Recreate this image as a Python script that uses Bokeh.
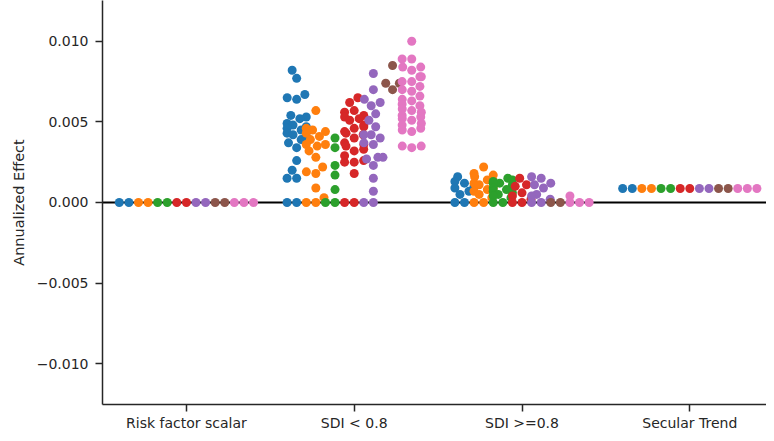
import numpy as np
from bokeh.plotting import figure
from bokeh.models import ColumnDataSource, FixedTicker, Span, CustomJSTickFormatter
from bokeh.embed import file_html
from bokeh.resources import INLINE

# ---------------- data ----------------
categories = ["Risk factor scalar", "SDI < 0.8", "SDI >=0.8", "Secular Trend"]
hue_colors = ["#1f77b4", "#ff7f0e", "#2ca02c", "#d62728", "#9467bd", "#8c564b", "#e377c2"]

# one list per hue (blue, orange, green, red, purple, brown, pink)
risk_factor_scalar = [
    [0.0, 0.0],
    [0.0, 0.0],
    [0.0, 0.0],
    [0.0, 0.0],
    [0.0, 0.0],
    [0.0, 0.0],
    [0.0, 0.0, 0.0],
]

sdi_below_08 = [
    [0.0082, 0.0077, 0.0067, 0.0065, 0.0064, 0.0054, 0.0053, 0.0052, 0.0049, 0.0048,
     0.0047, 0.0046, 0.0045, 0.0044, 0.0043, 0.0042, 0.0041, 0.0039, 0.0037, 0.0034,
     0.0026, 0.0020, 0.0015, 0.0015, 0.0, 0.0],
    [0.0057, 0.0046, 0.0045, 0.0044, 0.0043, 0.0041, 0.0039, 0.0036, 0.0036, 0.0035,
     0.0032, 0.0028, 0.0022, 0.0019, 0.0018, 0.0009, 0.0003, 0.0, 0.0],
    [0.0040, 0.0034, 0.0023, 0.0017, 0.0008, 0.0, 0.0],
    [0.0065, 0.0062, 0.0057, 0.0056, 0.0054, 0.0053, 0.0052, 0.0051, 0.0048, 0.0047,
     0.0046, 0.0044, 0.0043, 0.0042, 0.0040, 0.0037, 0.0036, 0.0035, 0.0033, 0.0032,
     0.0029, 0.0026, 0.0025, 0.0025, 0.0018, 0.0, 0.0],
    [0.0080, 0.0070, 0.0064, 0.0062, 0.0060, 0.0055, 0.0051, 0.0047, 0.0042, 0.0042,
     0.0040, 0.0037, 0.0036, 0.0028, 0.0028, 0.0027, 0.0023, 0.0015, 0.0007, 0.0, 0.0],
    [0.0085, 0.0074, 0.0074, 0.0070],
    [0.0100, 0.0089, 0.0089, 0.0084, 0.0084, 0.0082, 0.0078, 0.0078, 0.0075, 0.0075,
     0.0072, 0.0070, 0.0069, 0.0066, 0.0064, 0.0063, 0.0061, 0.0060, 0.0058, 0.0057,
     0.0056, 0.0054, 0.0053, 0.0052, 0.0051, 0.0049, 0.0048, 0.0046, 0.0045, 0.0044,
     0.0035, 0.0034, 0.0035],
]

sdi_above_08 = [
    [0.0016, 0.0013, 0.0012, 0.0010, 0.0009, 0.0007, 0.0005, 0.0, 0.0],
    [0.0022, 0.0018, 0.0017, 0.0016, 0.0014, 0.0013, 0.0012, 0.0011, 0.0009, 0.0008,
     0.0007, 0.0005, 0.0003, 0.0, 0.0],
    [0.0015, 0.0014, 0.0013, 0.0012, 0.0012, 0.0011, 0.0010, 0.0009, 0.0008, 0.0007,
     0.0006, 0.0005, 0.0004, 0.0003, 0.0, 0.0],
    [0.0015, 0.0011, 0.0010, 0.0006, 0.0004, 0.0002, 0.0, 0.0],
    [0.0016, 0.0015, 0.0012, 0.0011, 0.0009, 0.0005, 0.0004, 0.0002, 0.0, 0.0],
    [0.0, 0.0],
    [0.0004, 0.0, 0.0, 0.0],
]

secular_trend = [
    [0.00087, 0.00087],
    [0.00087, 0.00087],
    [0.00087, 0.00087],
    [0.00087, 0.00087],
    [0.00087, 0.00087],
    [0.00087, 0.00087],
    [0.00087, 0.00087, 0.00087],
]

all_groups = [risk_factor_scalar, sdi_below_08, sdi_above_08, secular_trend]

y_ticks = [-0.010, -0.005, 0.0, 0.005, 0.010]

# ---------------- layout ----------------
W, H = 766, 433
BL, BR, BT, BB = 102, 0, 0, 27
frame_w = W - BL - BR
frame_h = H - BT - BB
x_start = -0.5
x_end = x_start + frame_w / 167.8
y_end = 0.01253
y_start = y_end - frame_h / 16200.0
px_per_x = frame_w / (x_end - x_start)
px_per_y = frame_h / (y_end - y_start)

n_hue = len(hue_colors)
hue_width = 0.8 / n_hue
half_w = hue_width / 2
radius_px = 4.585
marker_size = 9


def beeswarm(values):
    """seaborn-style swarm layout in pixel space; returns x offsets in px."""
    ys = np.asarray(values, float) * px_per_y
    order = np.argsort(ys, kind="stable")
    pts = [np.array([0.0, ys[i], radius_px]) for i in order]
    swarm = [pts[0]]
    for p in pts[1:]:
        neigh = []
        for q in reversed(swarm):
            if p[1] - q[1] < p[2] + q[2]:
                neigh.append(q)
            else:
                break
        neigh = neigh[::-1]
        cands = [p.copy()]
        left_first = True
        for q in neigh:
            dy = p[1] - q[1]
            dx = np.sqrt(max((p[2] + q[2]) ** 2 - dy ** 2, 0)) * 1.05
            cl = np.array([q[0] - dx, p[1], p[2]])
            cr = np.array([q[0] + dx, p[1], p[2]])
            cands.extend([cl, cr] if left_first else [cr, cl])
            left_first = not left_first
        cands = np.array(cands)
        cands = cands[np.argsort(np.abs(cands[:, 0]), kind="stable")]
        chosen = cands[0]
        if neigh:
            nb = np.array(neigh)
            for c in cands:
                d2 = (nb[:, 0] - c[0]) ** 2 + (nb[:, 1] - c[1]) ** 2
                if np.all(d2 >= (nb[:, 2] + c[2]) ** 2 - 1e-9):
                    chosen = c
                    break
        swarm.append(chosen)
    out = np.empty(len(ys))
    out[order] = [s[0] for s in swarm]
    return out


xs, ys, cs = [], [], []
for ci, group in enumerate(all_groups):
    for hi, vals in enumerate(group):
        center = ci + (hi - (n_hue - 1) / 2) * hue_width
        offs = beeswarm(vals) / px_per_x
        offs = np.clip(offs, -half_w, half_w)
        xs.extend(center + offs)
        ys.extend(vals)
        cs.extend([hue_colors[hi]] * len(vals))

source = ColumnDataSource(dict(x=xs, y=ys, color=cs))

# ---------------- figure ----------------
p = figure(width=W, height=H, output_backend="svg", toolbar_location=None,
           x_range=(x_start, x_end), y_range=(y_start, y_end),
           min_border_left=BL, min_border_right=BR, min_border_top=BT, min_border_bottom=BB)
p.outline_line_color = None
p.grid.visible = False
p.background_fill_color = "white"
p.border_fill_color = "white"

zero_line = Span(location=0, dimension="width", line_color="black", line_width=2, level="underlay")
p.add_layout(zero_line)

p.scatter("x", "y", source=source, size=marker_size, fill_color="color", line_color=None)

text_color = "#262626"
font = "DejaVu Sans"

xa = p.xaxis[0]
xa.ticker = FixedTicker(ticks=list(range(len(categories))))
xa.major_label_overrides = {i: c for i, c in enumerate(categories)}
ya = p.yaxis[0]
ya.ticker = FixedTicker(ticks=y_ticks)
ya.formatter = CustomJSTickFormatter(code="""
    const v = Math.abs(tick) < 1e-12 ? 0 : tick;
    return (v < 0 ? "\\u2212" : "") + Math.abs(v).toFixed(3);
""")
ya.axis_label = "Annualized Effect"

for ax in (xa, ya):
    ax.axis_line_color = text_color
    ax.axis_line_width = 1.5
    ax.major_tick_line_color = text_color
    ax.major_tick_line_width = 1.5
    ax.major_tick_in = 0
    ax.major_tick_out = 7
    ax.minor_tick_line_color = None
    ax.major_label_text_font = font
    ax.major_label_text_font_size = "14px"
    ax.major_label_text_color = text_color
    ax.axis_label_text_font = font
    ax.axis_label_text_font_size = "14.5px"
    ax.axis_label_text_font_style = "normal"
    ax.axis_label_text_color = text_color

xa.major_label_standoff = 3
ya.major_label_standoff = 7
ya.axis_label_standoff = 7

open("out.html", "w").write(file_html(p, INLINE))
